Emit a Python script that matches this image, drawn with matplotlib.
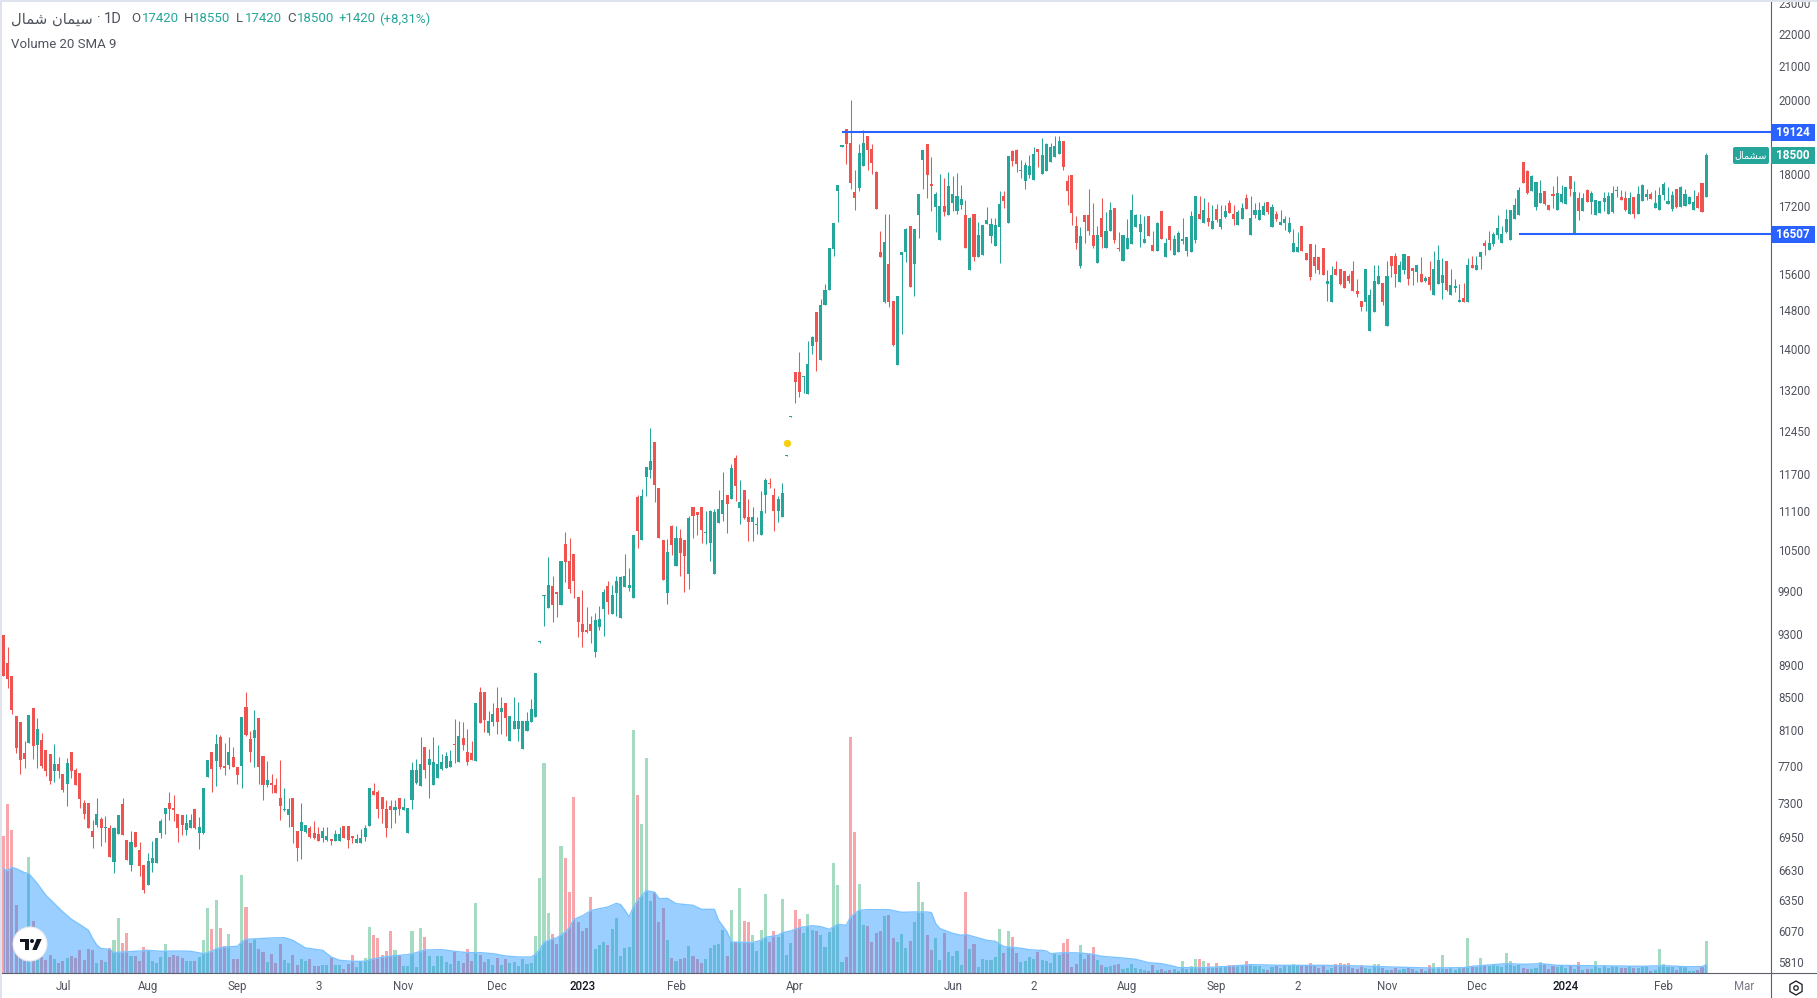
#!/usr/bin/env python3
# daily candles with volume and volume SMA
import numpy as np
import matplotlib
matplotlib.use('Agg')
import matplotlib.pyplot as plt
from matplotlib.lines import Line2D
from matplotlib.patches import Rectangle, Circle, Polygon, FancyBboxPatch, RegularPolygon
from matplotlib.ticker import NullLocator
from matplotlib.transforms import Affine2D

plt.rcParams['font.family'] = ['Roboto', 'DejaVu Sans']

opens = [9290,8925,8760,8270,8200,7840,7960,8365,7930,7985,
7875,7830,7645,7720,7610,7500,7850,7655,7620,7300,
7300,7015,7075,7135,7045,7045,6710,6985,7290,6925,
6680,7005,6825,6680,6490,6700,6700,6995,7185,7300,
7250,7185,7175,7025,7045,7240,6995,6995,7580,7850,
7755,8025,7700,7710,7795,7690,7700,8375,8000,8015,
8245,7810,7490,7510,7490,7355,7225,7175,7355,7015,
7015,7005,7045,6995,6985,6945,6925,6935,6915,6915,
7065,7065,6965,6895,6895,6955,7065,7425,7410,7365,
7240,7270,7225,7355,7225,6995,7325,7510,7480,7910,
7710,7490,7560,7665,7675,7690,7940,7740,8015,7850,
7840,7755,8560,8560,8070,8200,8365,8315,8425,7975,
8115,8115,7885,8095,8200,8255,9200,9825,9655,9965,
9880,9700,10585,10330,10435,9810,9435,9355,9435,9065,
9395,9640,9965,9575,9865,9520,9950,9935,9795,11320,
10645,11650,11765,12250,11470,10645,9865,10865,10255,10675,
10645,10135,11160,11080,11160,10750,10600,10135,10905,11045,
11350,11285,11975,11145,11435,11000,10920,10875,10720,11350,
11550,11350,11095,11000,12015,12700,13550,13550,13450,13125,
14065,14770,13785,14915,15240,16165,17565,18710,19200,18820,
17540,17640,18205,19005,18660,18050,16090,14975,15815,15000,
13685,16020,16090,16705,15815,16970,18365,18790,17745,17160,
16375,17185,16970,17265,17075,17210,16970,15680,17000,15980,
16020,16750,16470,16240,16680,17440,16780,18600,18630,18075,
17820,17975,17850,18660,18000,18075,18310,18445,18525,18870,
17820,17975,16705,15770,16970,16970,16490,15840,16900,16190,
16585,17135,16190,15885,16165,16280,16680,16560,16300,16945,
16260,16120,17075,15980,16705,16020,16090,16350,16110,16090,
16370,16990,16775,16895,16635,17115,16680,16920,17265,16990,
16730,16870,17390,16490,16965,16850,16965,17290,16680,16990,
16730,16775,16560,16090,16090,16705,16065,16280,15975,15975,
16180,15365,14980,15705,15705,15660,15550,15660,15215,15000,
14980,14370,14760,15365,15390,14470,15995,15995,15410,15685,
15995,15725,15640,15595,15435,15525,15130,15365,15390,15885,
15130,15280,14980,15060,14980,15800,15685,15975,16300,16135,
16280,16490,16300,16560,16370,16870,16965,18310,18075,17565,
17165,17265,17565,17215,17490,17090,17290,17240,17945,16520,
17390,17065,17590,17290,16965,17015,17290,16990,17040,17565,
17415,17390,16990,17415,16990,17315,17415,17490,17140,17090,
17465,17240,17115,17615,17165,17190,17240,17090,17440,17765,
17420]

highs = [9290,9130,8760,8270,8200,7975,8280,8365,8245,8070,
7875,7830,7940,7795,7610,7785,7850,7675,7620,7325,
7300,7125,7355,7155,7165,7075,7055,7175,7355,6925,
7015,7005,6905,6680,6795,6915,6945,7135,7250,7410,
7385,7185,7175,7185,7185,7240,7155,7460,7765,7850,
8060,8045,7950,8025,7910,7690,8255,8560,8095,8340,
8245,7810,7755,7610,7560,7765,7460,7355,7355,7015,
7300,7075,7060,7115,7055,7055,7055,6935,7025,7055,
7065,7065,6965,6985,7035,7075,7460,7510,7440,7365,
7335,7335,7335,7355,7355,7250,7740,7775,8025,7910,
7885,8025,7930,7830,7850,7875,8235,8210,8200,8115,
7975,8425,8620,8560,8330,8425,8620,8500,8425,8270,
8500,8440,8210,8315,8475,8790,9205,9840,10390,10110,
9880,10330,10765,10675,10435,9810,9910,9670,9545,9590,
9680,9925,10035,9980,10110,10110,10435,10225,10720,11350,
11450,11815,12495,12250,11470,10645,10660,10880,10865,10815,
10645,11015,11160,11080,11160,11095,11110,11130,11435,11730,
11350,11870,12025,11600,11435,11285,11160,11000,11415,11635,
11635,11470,11335,11550,12025,12715,13550,13945,13470,14165,
14265,14770,15040,15375,16190,16780,17720,18765,19200,20010,
18100,18790,19170,19005,18790,18075,16585,16995,16995,15000,
15110,16090,16655,16705,16630,17490,18630,18790,18445,17540,
18000,17900,18050,17950,18025,17720,17340,16920,17000,16800,
16730,17160,16900,16900,17565,17565,18460,18630,18660,18365,
18310,18500,18710,18660,18950,18820,18820,19005,19005,18870,
17975,17975,16945,16680,16970,17615,17265,16705,17390,17040,
17290,17135,16560,16490,16870,17490,17000,17000,16945,16945,
16585,16800,17075,16420,16705,16490,16585,16895,16445,17065,
17440,17440,17390,17290,17215,17240,17215,17215,17340,17215,
17090,17265,17490,17440,17265,17290,17290,17290,17240,17065,
17090,16940,16920,16635,16560,16705,16065,16280,16280,15975,
16180,15685,15775,15885,15705,15660,15595,15885,15480,15000,
15705,15260,15800,15800,15390,15885,15995,16065,15885,16040,
15995,15725,15800,15975,15550,15885,16110,16255,15950,15885,
15705,15480,15365,15390,15950,15995,15995,16090,16370,16585,
16560,16965,16705,17115,17090,17390,17660,18310,18100,17970,
17790,17840,17565,17215,17690,17945,17715,17665,17945,17815,
17540,17515,17615,17565,17340,17315,17540,17540,17690,17690,
17590,17565,17540,17415,17690,17740,17615,17540,17590,17665,
17790,17665,17565,17615,17690,17615,17440,17590,17540,17765,
18550]

lows = [8760,8610,8290,7840,7610,7675,7960,7775,7675,7675,
7590,7500,7525,7560,7410,7270,7560,7490,7250,7135,
7045,6845,7055,6865,6905,6755,6605,6985,6975,6730,
6625,6855,6575,6410,6490,6615,6700,6945,6985,7125,
7115,6905,6975,6975,7045,7035,6835,6985,7580,7410,
7480,7665,7600,7665,7690,7500,7460,8035,7740,7690,
7500,7335,7470,7400,7400,7125,7215,7055,6895,6720,
6740,6995,6945,6935,6915,6905,6915,6875,6915,6915,
6945,6845,6895,6895,6895,6915,7065,7385,7145,7095,
6955,7045,7095,7175,7225,6995,7240,7500,7480,7560,
7355,7490,7560,7655,7675,7690,7730,7740,7875,7710,
7765,7755,8190,8080,8045,8150,8060,8060,8035,7975,
8115,7975,7885,8095,8200,8255,9180,9410,9655,9465,
9530,9700,10020,9865,9795,9260,9130,9315,9185,9000,
9355,9275,9575,9575,9545,9520,9950,9890,9795,10525,
10645,11335,11635,11240,10675,10050,9710,10420,10255,10110,
9880,9925,10675,10720,10600,10585,10330,10135,10905,10935,
10750,11285,11255,10890,10970,10630,10630,10735,10720,11060,
11470,10780,10920,11000,12015,12700,12960,13070,13145,13125,
13905,13565,13785,14915,15240,16000,16800,18710,18260,17615,
17095,17565,18205,18100,18000,17120,15980,14955,14875,14065,
13685,14305,15865,15310,15110,16420,17615,17390,17075,16560,
16375,16945,16970,17075,17000,17120,16190,15680,15885,15980,
16020,16750,16300,16240,15840,17135,16780,18205,18050,17900,
17615,17900,17850,18180,18000,18075,18310,18445,18525,18100,
17210,16730,16165,15725,16300,16490,16190,15840,16190,16190,
16585,16300,16120,15885,16165,16280,16680,16215,16300,16470,
16120,16120,16395,15980,16140,16020,16090,16280,15995,16090,
16300,16870,16775,16705,16635,16800,16635,16895,17015,16730,
16730,16870,17115,16490,16895,16850,16965,16990,16680,16825,
16730,16610,16540,16090,16090,16110,15910,15455,15615,15595,
15570,15000,14980,15570,15345,15280,15390,15215,15085,14785,
14785,14370,14760,15365,14915,14470,15525,15300,15410,15595,
15345,15345,15410,15410,15410,15240,15130,15365,15045,15215,
15130,15195,14980,14980,14980,15725,15685,15705,16020,16135,
16230,16395,16300,16540,16370,16870,16965,17765,17490,17565,
17090,17265,17215,17090,17140,17090,17265,17240,17440,16500,
16850,17065,17290,16990,16965,17015,17065,16990,17015,17415,
17340,17065,16990,16895,16990,17315,17340,17365,17140,17090,
17340,17240,17065,17140,17165,17190,17240,17090,17140,17040,
17420]

closes = [8760,8720,8340,7900,7765,7775,8280,7920,8115,7700,
7645,7535,7720,7645,7440,7730,7645,7490,7345,7185,
7045,6955,7185,7045,7055,6755,7045,7175,6975,6730,
6905,6855,6670,6445,6720,6745,6945,7115,7250,7240,
7225,7045,7075,7095,7125,7045,7055,7460,7765,7665,
7940,7690,7675,7850,7690,7600,8255,8045,7850,8105,
7690,7490,7545,7490,7400,7270,7240,7240,7055,6845,
7105,7075,6955,6945,6915,7015,6965,6915,6985,6985,
6945,6925,6945,6935,6945,7045,7460,7385,7240,7240,
7045,7225,7260,7240,7260,7250,7655,7655,7720,7655,
7775,7740,7720,7740,7810,7755,7930,8035,7930,7740,
7765,8425,8190,8220,8210,8290,8200,8365,8245,8270,
8210,8210,8210,8210,8350,8790,9205,9840,9980,9700,
9850,10330,10315,9925,10035,9465,9330,9330,9340,9490,
9505,9880,9735,9835,10035,10095,10110,9980,10720,10780,
11335,11815,11920,11520,10675,10050,10465,10570,10675,10450,
10405,10985,11015,11030,10800,10765,11095,11080,11130,11270,
11205,11800,11500,11240,10985,10920,11000,10890,11095,11600,
11535,11095,11285,11385,12025,12715,13355,13165,13470,13705,
14245,14145,14915,15240,16190,16780,17720,18765,18790,17770,
17390,18550,18820,18630,18285,17120,15980,16325,14975,14085,
15110,16090,16630,15310,16630,17490,18630,17975,17695,17490,
17185,17040,17695,17490,17440,17360,16190,16900,15980,16490,
16730,16850,16750,16730,17235,17310,18460,18340,18260,18100,
18230,18205,18525,18580,18500,18790,18710,18735,18870,18180,
17565,17020,16300,16470,16800,16585,16240,16490,16445,16585,
17095,16375,16165,16490,16420,17095,16970,16750,16395,16470,
16120,16780,16395,16300,16375,16395,16535,16395,16445,16940,
17440,16870,17090,16800,16825,16850,16870,17065,17015,16870,
17040,17140,17115,16895,17090,17090,17190,17040,17165,16870,
16800,16870,16775,16300,16205,16110,15910,15525,15775,15685,
15570,15435,15570,15570,15365,15280,15435,15215,15150,14870,
15705,15130,15435,15550,14980,15550,15775,15595,15800,16040,
15480,15660,15800,15410,15500,15345,15705,15910,15570,15240,
15345,15325,15020,14980,15800,15725,15800,16090,16230,16300,
16515,16660,16515,16870,17090,17215,17590,17765,17515,17945,
17790,17515,17240,17090,17440,17515,17490,17665,17615,17540,
17065,17390,17290,17515,17340,17315,17390,17440,17515,17590,
17340,17090,17390,16990,17490,17715,17490,17365,17265,17465,
17740,17315,17465,17165,17665,17490,17415,17290,17140,17040,
18500]

# volume in relative units, the real scale is not shown on the chart
volumes = [410,506,428,203,60,36,347,155,45,48,
40,53,43,31,36,46,50,44,68,38,
71,68,29,38,32,76,98,164,89,119,
50,50,35,77,68,35,29,47,86,47,
53,50,44,35,35,35,47,98,194,131,
218,134,80,116,41,41,293,197,89,101,
71,62,32,56,29,86,38,29,53,23,
41,35,41,20,20,23,23,46,23,23,
11,26,53,17,35,44,137,113,104,53,
65,125,68,50,20,20,125,17,134,107,
50,20,50,50,32,26,62,35,29,71,
35,209,53,32,41,23,44,23,41,29,
32,20,41,26,29,110,284,629,179,116,
86,380,344,242,527,152,125,134,227,71,
83,92,83,131,164,50,74,77,728,533,
446,644,215,242,152,194,98,44,35,41,
44,80,50,41,29,41,74,83,86,128,
50,188,92,254,155,152,113,65,128,236,
92,125,107,221,53,89,188,161,119,176,
128,125,113,77,122,329,263,32,47,707,
422,266,143,140,92,119,125,170,173,104,
92,116,74,95,152,272,212,113,68,104,
38,119,62,50,65,23,242,71,86,17,
41,38,38,47,131,59,125,107,59,32,
35,47,41,62,38,35,29,59,54,89,
101,17,26,83,41,56,77,38,23,17,
20,23,26,11,14,26,14,11,8,5,
23,8,11,5,8,11,5,35,11,20,
41,41,35,29,14,29,20,17,23,23,
20,20,35,23,20,20,11,8,17,20,
14,23,20,26,20,23,20,29,20,14,
23,8,14,26,29,26,29,14,11,23,
14,11,26,26,14,8,8,14,8,11,
14,11,5,11,5,23,29,17,53,11,
14,8,14,14,104,17,17,44,23,20,
26,20,17,59,35,20,23,14,11,11,
14,32,26,11,20,17,23,15,20,13,
33,10,13,13,37,15,25,15,22,22,
15,15,20,15,15,22,22,7,10,73,
28,18,18,10,20,17,7,7,10,17,
97]

sma_bars = [0,1,2,3,5,6,8,10,12,14,16,18,20,21,22,23,25,26,28,31,34,37,41,44,47,49,50,52,55,56,57,60,
63,66,68,71,75,77,79,82,85,86,88,91,95,97,99,103,106,109,112,115,118,121,122,124,125,126,127,129,130,
132,133,134,136,138,140,142,144,145,146,147,148,149,151,153,154,156,158,162,164,167,168,170,171,176,
178,179,182,183,185,187,190,192,194,196,198,199,201,203,208,211,214,217,218,219,220,223,225,226,231,
233,235,238,241,243,244,245,246,249,253,256,258,262,266,269,272,275,276,282,288,293,300,310,319,326,
335,343,345,350,353,357,361,365,373,379,385,390,395,399,400]
sma_values = [313,307,317,313,301,298,268,233,208,183,161,145,128,103,83,73,71,61,63,65,68,65,66,65,58,65,73,78,80,93,101,103,
105,106,98,75,68,48,38,35,35,40,45,51,55,61,69,70,65,61,61,58,51,48,48,48,56,71,92,102,105,
123,137,161,171,187,193,198,209,205,188,168,198,218,247,242,223,224,208,203,191,191,158,123,93,91,
98,107,113,121,126,136,142,139,131,146,143,168,188,190,190,182,183,183,181,148,133,119,113,116,98,
95,79,76,70,68,68,66,58,61,60,56,50,46,41,31,28,20,16,16,20,25,23,23,21,18,
15,16,20,25,28,26,28,23,22,21,20,22,19,19,25]

price_ticks = [23000,22000,21000,20000,18000,17200,15600,14800,14000,13200,12450,11700,11100,
10500,9900,9300,8900,8500,8100,7700,7300,6950,6630,6350,6070,5810]

month_bars = [14,34,55,74,94,116,136,158,186,223,242,264,285,304,325,346,367,390,409]
month_labels = ['Jul','Aug','Sep','3','Nov','Dec','2023','Feb','Apr','Jun','2','Aug','Sep','2','Nov','Dec','2024','Feb','Mar']

resistance = 19124
support = 16507
last_price = 18500

UP = '#26A69A'
DOWN = '#EF5350'
TEXT = '#50535E'
BLUE = '#2962FF'

W, H = 1817, 998
fig = plt.figure(figsize=(W/100, H/100), dpi=100, facecolor='white')
# pixels from the top left of the picture, for everything outside the data
tr = Affine2D().scale(1, -1).translate(0, H)

box = [2/W, (H-973)/H, 1769/W, 971/H]
ax_vol = fig.add_axes(box, zorder=1)
ax = fig.add_axes(box, zorder=2)
ax.patch.set_alpha(0)

bars = np.arange(len(closes))
o, h, l, c = [np.array(a, dtype=float) for a in (opens, highs, lows, closes)]
rising = c >= o
colors = np.where(rising, UP, DOWN)

# volume pane
vol_colors = np.where(rising, '#A5DBC0', '#F7A6AB')
ax_vol.bar(bars, volumes, width=0.72, color=vol_colors, linewidth=0, zorder=1)
ax_vol.fill_between(sma_bars, sma_values, 0, color='#0589FF', alpha=0.4, linewidth=0, zorder=2)
ax_vol.plot(sma_bars, sma_values, color='#7CC3FF', lw=1, zorder=3)
ax_vol.set_xlim(-0.305, 415.2)
ax_vol.set_ylim(0, 2913)
ax_vol.axis('off')

# candles
ax.vlines(bars, l, h, colors=colors, lw=0.75, zorder=3)
ax.bar(bars, np.abs(c-o), bottom=np.minimum(o, c), width=0.72, color=colors, linewidth=0, zorder=4)
ax.scatter([184], [12240], s=28, color='#F5D010', linewidth=0, zorder=4)

ax.hlines(resistance, 197, 415.2, color=BLUE, lw=1.5, zorder=5)
ax.hlines(support, 356, 415.2, color=BLUE, lw=1.5, zorder=5)

ax.set_yscale('log')
ax.set_xlim(-0.305, 415.2)
ax.set_ylim(5719, 23033)
ax.yaxis.tick_right()
ax.set_yticks(price_ticks)
ax.set_yticklabels([str(t) for t in price_ticks])
ax.yaxis.set_minor_locator(NullLocator())
ax.tick_params(axis='y', length=0, pad=5, labelsize=8.3, labelcolor=TEXT)
ax.set_xticks(month_bars)
ax.set_xticklabels(month_labels)
ax.tick_params(axis='x', length=0, pad=5, labelsize=8.3, labelcolor=TEXT)
for lab in ax.get_xticklabels():
    if lab.get_text() in ('2023', '2024'):
        lab.set_color('#131722')
        lab.set_fontweight('medium')
    if lab.get_text() == 'Mar':
        lab.set_color('#787B86')
for s in ax.spines.values():
    s.set_visible(False)

# frame lines and the light strip round the chart
fig.add_artist(Line2D([2, W], [973, 973], color='#5D606B', lw=0.8, transform=tr, zorder=3))
fig.add_artist(Line2D([1771, 1771], [2, H], color='#5D606B', lw=0.8, transform=tr, zorder=3))
fig.add_artist(Rectangle((0, 0), W, 2, color='#DEE3ED', linewidth=0, transform=tr, zorder=7))
fig.add_artist(Rectangle((0, 0), 2, H, color='#DEE3ED', linewidth=0, transform=tr, zorder=7))


def price_tag(top, color, label):
    fig.add_artist(Rectangle((1771, top), 44, 17, color=color, linewidth=0, transform=tr, zorder=5))
    fig.text(1793, top+8.5, label, transform=tr, color='white', fontsize=8.5, fontweight='bold',
             ha='center', va='center', zorder=6)


price_tag(124, BLUE, str(resistance))
price_tag(226, BLUE, str(support))
price_tag(147, UP, str(last_price))

# matplotlib does no Arabic shaping, so these are the joined forms in drawing order
name_tag = '\uFEDD\uFE8E\uFEE4\uFEB8\uFEB3'
name_title = '\uFEDD\uFE8E\uFEE4\uFEB7 \uFEE5\uFE8E\uFEE4\uFBFF\uFEB3'

fig.add_artist(FancyBboxPatch((1735, 149), 32, 13, boxstyle='round,pad=2,rounding_size=2', color=UP,
                              linewidth=0, transform=tr, zorder=5))
fig.text(1751, 155.5, name_tag, transform=tr, color='white', fontsize=7, family='DejaVu Sans',
         ha='center', va='center', zorder=6)

# header
fig.text(11, 19, name_title, transform=tr, color=TEXT, fontsize=10.6, family='DejaVu Sans', va='center')
fig.text(97, 19, '\u00b7', transform=tr, color=TEXT, fontsize=10, va='center')
fig.text(104, 19, '1D', transform=tr, color=TEXT, fontsize=10.5, va='center')
header = [(131, 'O', TEXT), (142, '17420', UP), (184, 'H', TEXT), (193, '18550', UP),
          (236, 'L', TEXT), (245, '17420', UP), (287, 'C', TEXT), (297, '18500', UP),
          (339, '+1420', UP), (379, '(+8,31%)', UP)]
for x, s, col in header:
    fig.text(x, 19, s, transform=tr, color=col, fontsize=9.5, va='center')
fig.text(11, 45, 'Volume 20 SMA 9', transform=tr, color=TEXT, fontsize=9.5, va='center')

# logo badge
fig.add_artist(Circle((30, 944), 17, facecolor='white', edgecolor='#E8E8EC', lw=0.8, transform=tr, zorder=6))
for pts in ([(20, 939), (29.3, 939), (29.3, 950), (25, 950), (25, 942.3), (20, 942.3)],
            [(36.7, 939), (41.7, 939), (36.7, 950), (32.3, 950)]):
    fig.add_artist(Polygon(pts, closed=True, color='#131722', linewidth=0, transform=tr, zorder=7))
fig.add_artist(Circle((32, 941), 2, color='#131722', linewidth=0, transform=tr, zorder=7))

# settings icon
fig.add_artist(RegularPolygon((1796, 988), 6, radius=7, facecolor='none', edgecolor='#131722', lw=0.9,
                              transform=tr, zorder=6))
fig.add_artist(Circle((1796, 988), 2.2, facecolor='none', edgecolor='#131722', lw=0.9, transform=tr, zorder=6))

fig.savefig('out.png', dpi=100)
